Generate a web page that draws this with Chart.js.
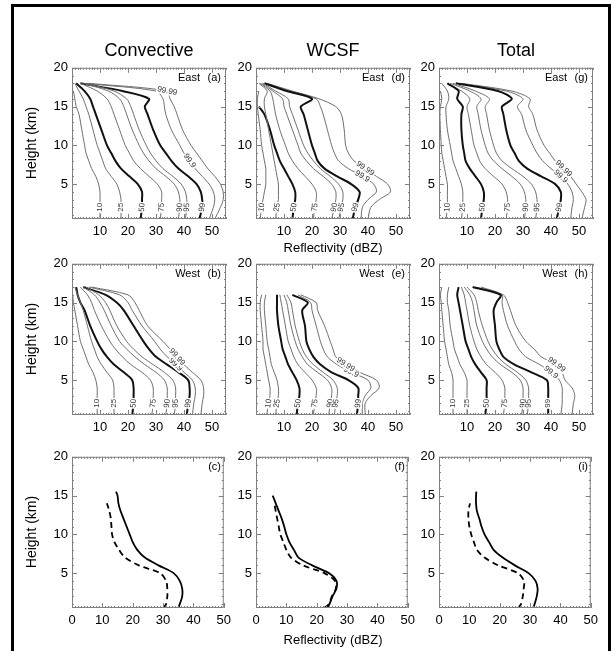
<!DOCTYPE html>
<html>
<head>
<meta charset="utf-8">
<script src="https://cdn.jsdelivr.net/npm/chart.js@4.4.1/dist/chart.umd.min.js"></script>
<style>
  body { margin: 0; background: #fff; font-family: "Liberation Sans", Arial, Helvetica, sans-serif; }
  #frame { position: absolute; left: 11px; top: 4px; width: 594px; height: 680px; border: 3px solid #000; }
  canvas { position: absolute; }
  .txt { position: absolute; transform: translate(-50%, -50%); white-space: nowrap; color: #000; }
  .title { font-size: 18px; }
  .axt { font-size: 13px; }
  .vert { transform: translate(-50%, -50%) rotate(-90deg); font-size: 14px; }
  .tag { position: absolute; font-size: 11px; white-space: nowrap; }
</style>
</head>
<body>
<div id="frame"></div>
<div id="page"></div>
<script>
// heights (km) of the percentile profiles
const heights = [0.5, 2, 3, 4, 5, 6, 7, 8, 9, 10, 12, 14, 15, 16, 17, 18];
const percentiles = ['10', '25', '50', '75', '90', '95', '99', '99.9', '99.99'];
const boldCurves = ['50', '99'];
const cfadXTicks = [10, 20, 30, 40, 50];
const meanXTicks = [0, 10, 20, 30, 40, 50];
const heightTicks = [5, 10, 15, 20];

// reflectivity (dBZ) per percentile, one row per entry of percentiles
const eastConvective = [
  [10, 10, 10, 10, 9.5, 8.5, 7, 6, 5, 4.5, 3.5, 2.5, 1.5, 1, 0.5, null],
  [17.5, 17.5, 17.5, 17, 16, 14, 12, 11, 10, 9, 7.5, 6, 5, 4, 2.5, 1],
  [24.5, 25, 25, 25, 23.5, 20.5, 17.5, 15.5, 14, 12.5, 10.5, 8.5, 7.5, 6.5, 4.5, 1.5],
  [31.5, 32, 32, 32, 30.5, 27.5, 24.5, 22, 20.5, 19, 17, 15, 14, 12.5, 9, 3],
  [38, 38.5, 38.5, 38, 36.5, 33.5, 30, 27.5, 25.5, 24, 21.5, 19.5, 18.5, 17, 13, 4],
  [40.5, 41, 41, 40.5, 39, 36, 32.5, 30, 28, 26.5, 24, 22, 21, 19.5, 15, 5],
  [45.5, 46.5, 46.5, 46, 44.5, 41.5, 38, 35.5, 33.5, 31.5, 29, 27, 26, 27.5, 18, 3],
  [49, 50.5, 51, 50.5, 49, 46.5, 44, 42, 40, 38.5, 35.5, 33.5, 33, 32.5, 30, 4],
  [51, 53, 54, 54, 53, 51, 48.5, 46.5, 44.5, 42.5, 39.5, 37.5, 36.5, 35, 34, 6]
];
const eastWcsf = [
  [1.5, 2, 2.5, 3, 3.5, 3.5, 3.5, 3, 2.5, 2, 1.5, 0.8, 0.5, 0.5, 1, null],
  [7, 7.5, 8, 8, 8, 7.5, 7, 6.5, 6, 5.5, 4.5, 3.5, 3, 3, 4, 1],
  [13, 13.5, 14, 14, 13, 11.5, 10, 8.5, 7.5, 6.5, 5, 3, 1, null, null, null],
  [20.5, 21, 21.5, 21.5, 20, 17.5, 15, 13, 11.5, 10.5, 8.5, 7, 6.5, 6, 5, 1.5],
  [27, 28, 28.5, 28.5, 27, 24, 20.5, 18, 16, 15, 13, 11, 10, 9.5, 6, 2],
  [29.5, 30.5, 31, 31, 29.5, 26.5, 23, 20.5, 18.5, 17, 15, 13, 12, 11.5, 7, 2.5],
  [34.5, 35.5, 36.5, 37, 34, 29, 24.5, 22, 21, 20, 18.5, 17, 16, 20, 11, 3],
  [37.5, 38, 40, 43, 42, 38, 33, 29.5, 28, 27, 25.5, 24, 23, 21.5, 12, 3.5],
  [40, 41, 44, 48, 47, 43, 39, 35, 33, 32, 31.5, 30.5, 28.5, 22.5, 13, 4]
];
const eastTotal = [
  [2.5, 3, 3, 3, 3, 2.5, 2, 1.5, 1, 0.8, 0.5, 0.3, 0.5, 1, 0.5, null],
  [8, 8.5, 8.5, 8.5, 8, 7, 6, 5, 4.5, 4, 3, 2.5, 2.5, 3.5, 3, 1],
  [15, 15.5, 16, 16, 15, 13, 11, 9.5, 9, 8.5, 8, 8, 8.5, 6.5, 7, 3],
  [24, 24.5, 24.5, 24, 22.5, 19.5, 16.5, 14.5, 13.5, 12.5, 11.5, 10.5, 10, 11, 8, 3],
  [30.5, 31, 31, 30.5, 29, 26, 22.5, 19.5, 17.5, 16.5, 15, 14, 13.5, 15, 11, 4],
  [34.5, 35, 35, 34.5, 33, 30, 26, 22.5, 20.5, 19.5, 18, 17, 16.5, 18, 13, 5],
  [42, 43, 43.5, 43.5, 41.5, 36.5, 31.5, 28.5, 27, 25.5, 24, 23, 22.5, 26, 21, 6],
  [47, 47.5, 48, 47.5, 46, 43.5, 40, 37, 35, 33.5, 31, 29.5, 28, 30, 24, 7],
  [51, 52, 52.5, 51, 49, 47, 44.5, 41.5, 39.5, 37.5, 35, 33.5, 32, 32.5, 26, 8]
];
const westConvective = [
  [9, 9, 9, 9, 8.5, 7.5, 6, 5, 4, 3, 2, 1, 0.5, 0.3, null, null],
  [15, 15, 15, 15, 14.5, 12.5, 10.5, 9, 8, 7, 5.5, 4, 3, 2, 1, null],
  [21.5, 22, 22, 22, 21.5, 18.5, 15, 12.5, 10.5, 9, 6.5, 4.5, 3, 2, 1.5, null],
  [28.5, 29, 29, 29, 28, 25, 21, 18, 15.5, 13.5, 10.5, 8, 7, 5.5, 3, null],
  [33.5, 34, 34, 34, 33, 30, 26, 22.5, 19.5, 17, 14, 11.5, 10, 8, 4, null],
  [36.5, 37, 37, 37, 36, 33, 29, 25, 22, 19.5, 16, 13.5, 12, 9.5, 5, null],
  [41, 41.5, 42, 42, 41.5, 38, 34, 30, 27.5, 25.5, 22, 18.5, 16, 12, 4, null],
  [43, 43.5, 44, 44, 43, 40, 37, 34, 31.5, 29.5, 25, 21.5, 20, 17, 6, null],
  [46, 46.5, 47, 47, 46, 43, 40, 37.5, 35, 32.5, 27, 24, 22.5, 20, 7, null]
];
const westWcsf = [
  [3.8, 4.5, 5, 5, 4.5, 4, 3.5, 3, 2.5, 2.5, 2, 1.5, 1.5, 2, null, null],
  [7, 7.5, 8, 8, 7.5, 6.5, 5.5, 5, 4.5, 4, 3.5, 3, 3, 3.5, null, null],
  [14.5, 15, 15.5, 15.5, 14.5, 13, 11.5, 10.5, 9.5, 9, 8, 7.5, 7.5, 7.5, null, null],
  [20.5, 21, 21.5, 21.5, 20, 17.5, 15, 13.5, 12.5, 11.5, 10.5, 9.5, 9, 8.5, null, null],
  [26, 26.5, 27, 27, 25.5, 22, 18.5, 16.5, 15, 14, 12.5, 11.5, 11, 10, null, null],
  [28, 28.5, 29, 29, 27.5, 24, 20.5, 18, 16.5, 15.5, 14, 13, 12.5, 11, null, null],
  [36, 36.5, 36.5, 36.5, 33, 27, 23, 20.5, 19, 18, 17.5, 16.5, 18.5, 13, null, null],
  [38, 38, 39, 41, 40, 34, 29, 25.5, 24, 23, 21.5, 20, 19.5, 15, null, null],
  [39, 39, 41, 44, 43, 37, 32, 28.5, 27.5, 26.5, 24.5, 22, 21.5, 16, null, null]
];
const westTotal = [
  [5, 5, 5, 5, 5, 4.5, 3.5, 3, 2.5, 2, 1.5, 1, 0.8, 0.5, 1, null],
  [10, 10, 10, 10, 10, 9, 7.5, 6.5, 5.5, 5, 4, 3.5, 3, 3, 3.5, null],
  [16.5, 17, 17, 17, 17, 15, 13, 11.5, 10.5, 9.5, 8.5, 7.5, 7, 6.5, 7, null],
  [23, 23.5, 23.5, 23.5, 22.5, 20, 17, 15, 13.5, 12.5, 11, 10, 9.5, 9, 8, null],
  [29.5, 30, 30, 30, 29, 26, 22, 19, 17, 15.5, 13.5, 12.5, 12, 11, 9, null],
  [31.5, 32, 32, 32, 31, 28, 24, 21, 19, 17.5, 15.5, 14, 13.5, 12.5, 10, null],
  [39, 39, 39, 39, 38.5, 33, 27, 23, 21.5, 20.5, 20, 19.5, 20.5, 22, 12, null],
  [43.5, 44, 44, 44, 43, 40, 36, 31, 28.5, 27, 24.5, 23, 22.5, 22.5, 13, null],
  [47.5, 48, 48.5, 47.5, 45, 44, 42, 36.5, 34, 31, 27.5, 25.5, 24.5, 23, 15, null]
];

// mean profiles (bottom row): solid and dashed
const meanHeights = [0.5, 1, 2, 3, 4, 5, 6, 7, 8, 9, 10, 11, 12, 13, 14, 15, 15.5];
const convSolid = [35, 35.5, 36.3, 36.3, 35.5, 33.5, 28.5, 24, 21.5, 20, 19, 18, 17, 16, 15.3, 15, 14.5];
const convDashed = [30, 31, 31.4, 31.4, 31, 29, 22, 17.5, 15.5, 14, 13.2, 13, 12.8, 12.3, 11.5, null, null];
const wcsfSolid = [23.5, 24.2, 25.2, 26.5, 26.5, 24, 18.5, 14, 12.5, 11, 10, 9.3, 8.5, 7.5, 6.5, 5.5, null];
const wcsfDashed = [22.5, 24, 25, 26.3, 26, 22.5, 15.5, 11.5, 10, 9, 8, 7.5, 7, 6.5, 6, null, null];
const totalSolid = [31, 31.5, 32.2, 32.5, 31.8, 29.5, 25, 21, 18, 16.5, 15, 14, 13.3, 12.5, 12.2, 12.2, 12.3];
const totalDashed = [26, 27, 27.6, 27.9, 28, 26, 19.5, 15, 12.5, 11.5, 10.6, 10, 9.7, 9.7, 10.2, null, null];

const colLeft = [72, 256, 439];
const rowTop = [66, 262, 455];
const plotW = 154, plotH = 153;
const padL = 44, padT = 10, padR = 10, padB = 24;

const panels = [
  { tag: '(a)', region: 'East', col: 0, row: 0, cfad: eastConvective, hi: [8, 17] },
  { tag: '(d)', region: 'East', col: 1, row: 0, cfad: eastWcsf, hi: [6, 7] },
  { tag: '(g)', region: 'East', col: 2, row: 0, cfad: eastTotal, hi: [6, 7] },
  { tag: '(b)', region: 'West', col: 0, row: 1, cfad: westConvective, hi: [7, 8] },
  { tag: '(e)', region: 'West', col: 1, row: 1, cfad: westWcsf, hi: [6, 7] },
  { tag: '(h)', region: 'West', col: 2, row: 1, cfad: westTotal, hi: [6, 7] },
  { tag: '(c)', col: 0, row: 2, solid: convSolid, dashed: convDashed },
  { tag: '(f)', col: 1, row: 2, solid: wcsfSolid, dashed: wcsfDashed },
  { tag: '(i)', col: 2, row: 2, solid: totalSolid, dashed: totalDashed }
];

function toPoints(xs, ys) {
  const pts = [];
  xs.forEach((v, i) => { if (v != null) pts.push({ x: v, y: ys[i] }); });
  return pts;
}

// box with inward IDL-style ticks on all four sides
const framePlugin = {
  id: 'frame',
  afterDatasetsDraw(chart) {
    const { ctx, chartArea: a, scales: { x, y } } = chart;
    ctx.save();
    ctx.strokeStyle = '#808080';
    ctx.lineWidth = 1;
    ctx.strokeRect(a.left + 0.5, a.top + 0.5, a.right - a.left - 1, a.bottom - a.top - 1);
    ctx.beginPath();
    for (let v = Math.ceil(x.min); v <= x.max; v++) {
      const px = Math.round(x.getPixelForValue(v)) + 0.5;
      const len = v % 10 === 0 ? 5 : 2;
      ctx.moveTo(px, a.bottom); ctx.lineTo(px, a.bottom - len);
      ctx.moveTo(px, a.top); ctx.lineTo(px, a.top + len);
    }
    for (let v = Math.ceil(y.min); v <= y.max; v++) {
      const py = Math.round(y.getPixelForValue(v)) + 0.5;
      const len = v % 5 === 0 ? 5 : 2;
      ctx.moveTo(a.left, py); ctx.lineTo(a.left + len, py);
      ctx.moveTo(a.right, py); ctx.lineTo(a.right - len, py);
    }
    ctx.stroke();
    ctx.restore();
  }
};

// percentile labels written along the curves
const curveLabels = {
  id: 'curveLabels',
  afterDatasetsDraw(chart) {
    const { ctx, scales: { x, y } } = chart;
    chart.data.datasets.forEach(ds => {
      if (ds.labelAt == null) return;
      const pts = ds.data;
      const k = pts.findIndex(p => p.y === ds.labelAt);
      if (k < 0) return;
      const lo = pts[Math.max(k - 1, 0)], hi = pts[Math.min(k + 1, pts.length - 1)];
      let ang = Math.atan2(y.getPixelForValue(hi.y) - y.getPixelForValue(lo.y),
                           x.getPixelForValue(hi.x) - x.getPixelForValue(lo.x));
      if (ang < -Math.PI / 2) ang += Math.PI;
      if (ang > Math.PI / 2) ang -= Math.PI;
      ctx.save();
      ctx.translate(x.getPixelForValue(pts[k].x), y.getPixelForValue(pts[k].y));
      ctx.rotate(ang);
      ctx.font = '8px "Liberation Sans", Arial, sans-serif';
      const w = ctx.measureText(ds.label).width;
      ctx.fillStyle = '#fff';
      ctx.fillRect(-w / 2 - 1, -4, w + 2, 8);
      ctx.fillStyle = '#333';
      ctx.textAlign = 'center';
      ctx.textBaseline = 'middle';
      ctx.fillText(ds.label, 0, 0);
      ctx.restore();
    });
  }
};

const page = document.getElementById('page');

function addText(cls, text, x, y) {
  const d = document.createElement('div');
  d.className = cls;
  d.textContent = text;
  d.style.left = x + 'px';
  d.style.top = y + 'px';
  page.appendChild(d);
}

panels.forEach(p => {
  const left = colLeft[p.col], top = rowTop[p.row];
  const cv = document.createElement('canvas');
  cv.width = plotW + padL + padR;
  cv.height = plotH + padT + padB;
  cv.style.left = (left - padL) + 'px';
  cv.style.top = (top - padT) + 'px';
  page.appendChild(cv);

  let datasets;
  const isCfad = !!p.cfad;
  if (isCfad) {
    datasets = p.cfad.map((row, i) => {
      const bold = boldCurves.includes(percentiles[i]);
      let labelAt = 2;
      if (percentiles[i] === '99.9') labelAt = p.hi[0];
      if (percentiles[i] === '99.99') labelAt = p.hi[1];
      return {
        label: percentiles[i],
        data: toPoints(row, heights),
        borderColor: bold ? '#111' : '#6e6e6e',
        borderWidth: bold ? 2 : 1,
        pointRadius: 0,
        tension: 0.3,
        labelAt: labelAt
      };
    });
  } else {
    datasets = [
      { label: 'solid', data: toPoints(p.solid, meanHeights), borderColor: '#000',
        borderWidth: 1.8, pointRadius: 0, tension: 0.3 },
      { label: 'dashed', data: toPoints(p.dashed, meanHeights), borderColor: '#000',
        borderWidth: 1.8, borderDash: [6, 4], pointRadius: 0, tension: 0.3 }
    ];
  }

  const xTicks = isCfad ? cfadXTicks : meanXTicks;
  new Chart(cv, {
    type: 'line',
    data: { datasets: datasets },
    options: {
      responsive: false,
      animation: false,
      layout: { padding: { top: padT, right: padR, left: 0, bottom: 0 } },
      plugins: { legend: { display: false }, tooltip: { enabled: false } },
      scales: {
        x: {
          type: 'linear',
          min: 0,
          max: isCfad ? 55 : 50,
          grid: { display: false, drawTicks: false },
          border: { display: false },
          afterBuildTicks: s => { s.ticks = xTicks.map(v => ({ value: v })); },
          afterFit: s => { s.height = padB; },
          ticks: { color: '#000', padding: 5, maxRotation: 0,
                   font: { size: 13, family: '"Liberation Sans", Arial, sans-serif' } }
        },
        y: {
          type: 'linear',
          min: 0.5,
          max: 20,
          grid: { display: false, drawTicks: false },
          border: { display: false },
          afterBuildTicks: s => { s.ticks = heightTicks.map(v => ({ value: v })); },
          afterFit: s => { s.width = padL; },
          ticks: { color: '#000', padding: 4,
                   font: { size: 13, family: '"Liberation Sans", Arial, sans-serif' } }
        }
      }
    },
    plugins: [framePlugin, curveLabels]
  });

  // panel annotations
  const tagY = top + 5;
  const right = left + plotW;
  const t = document.createElement('div');
  t.className = 'tag';
  t.style.top = tagY + 'px';
  t.style.right = (613 - right + 5) + 'px';
  t.textContent = p.tag;
  page.appendChild(t);
  if (p.region) {
    const r = document.createElement('div');
    r.className = 'tag';
    r.style.top = tagY + 'px';
    r.style.right = (613 - right + 26) + 'px';
    r.textContent = p.region;
    page.appendChild(r);
  }
});

// column titles and axis titles
addText('txt title', 'Convective', colLeft[0] + plotW / 2, 50);
addText('txt title', 'WCSF', colLeft[1] + plotW / 2, 50);
addText('txt title', 'Total', colLeft[2] + plotW / 2, 50);
rowTop.forEach(t => addText('txt vert', 'Height (km)', 31, t + plotH / 2));
addText('txt axt', 'Reflectivity (dBZ)', colLeft[1] + plotW / 2, 247);
addText('txt axt', 'Reflectivity (dBZ)', colLeft[1] + plotW / 2, 639);
</script>
</body>
</html>
